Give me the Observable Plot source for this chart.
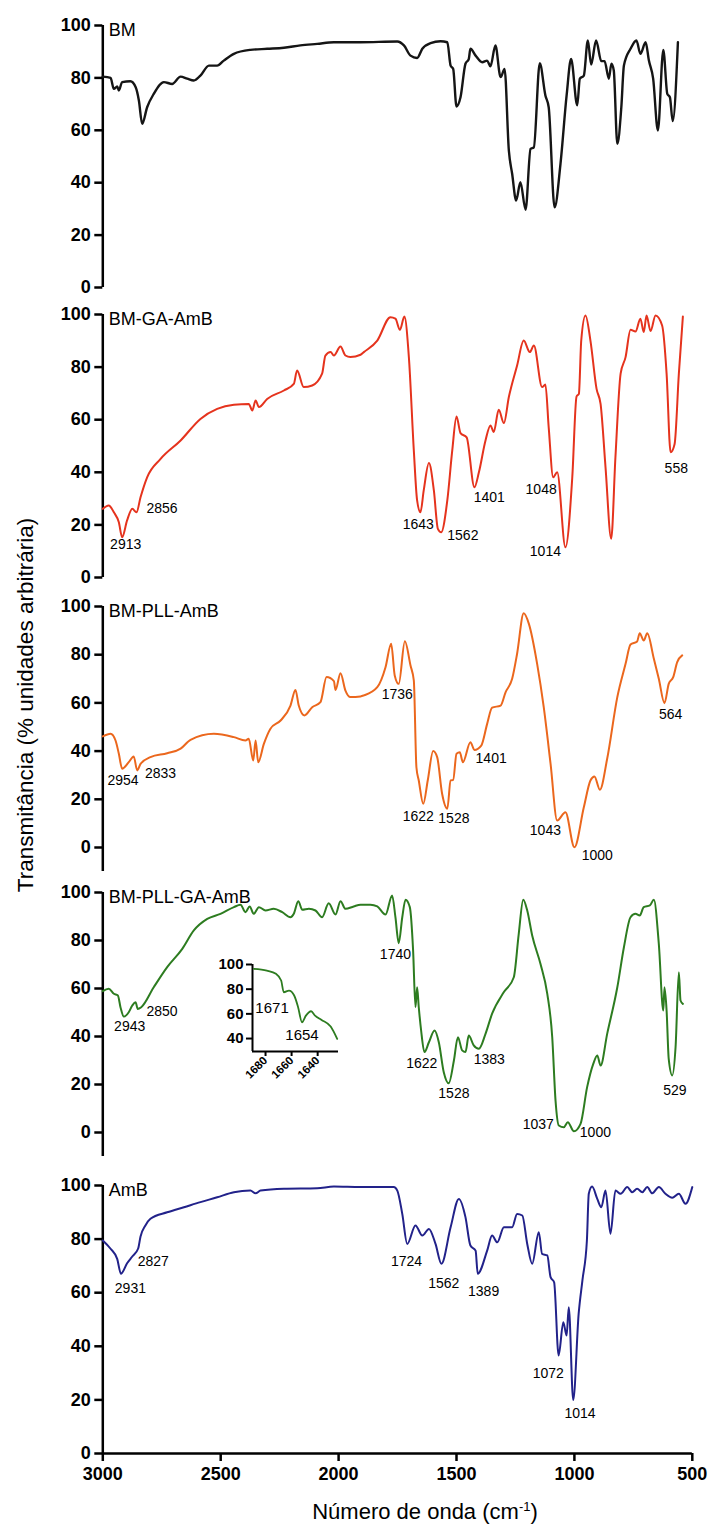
<!DOCTYPE html>
<html><head><meta charset="utf-8">
<script src="https://cdn.jsdelivr.net/npm/d3@7"></script>
<script src="https://cdn.jsdelivr.net/npm/@observablehq/plot@0.6"></script>
<style>
body{margin:0;background:#fff;}
#chart{position:relative;width:713px;height:1526px;font-family:"Liberation Sans",Arial,Helvetica,sans-serif;color:#000;overflow:hidden;}
#chart svg{position:absolute;left:0;overflow:visible;}
.ylab{position:absolute;left:26px;top:705px;transform:translate(-50%,-50%) rotate(-90deg);white-space:nowrap;font-size:22.5px;}
.xlab{position:absolute;left:425px;top:1512px;transform:translate(-50%,-50%);white-space:nowrap;font-size:22px;}
.xlab sup{font-size:13px;}
</style></head><body><div id="chart"></div>
<script>
// ---- data: [wavenumber (cm-1), transmittance (%)] ----
const bm = [[3000,80.5],[2967,80],[2953,75.8],[2939,76.7],[2932,75.2],[2918,78.4],[2883,78.7],[2861,76.5],[2847,71.4],[2833,62.5],[2812,68.8],[2784,73.9],[2741,78.4],[2706,77.7],[2670,80.5],[2642,79.7],[2614,79],[2586,80.9],[2550,84.7],[2515,84.7],[2487,86.6],[2444,89.2],[2374,90.7],[2303,91.1],[2232,91.5],[2162,92.4],[2091,93],[2020,93.6],[1907,93.6],[1751,93.9],[1723,92.4],[1695,88.5],[1667,87.6],[1645,91.1],[1610,93.3],[1568,94],[1539,93.6],[1525,84.7],[1514,83.4],[1500,69.1],[1483,72.6],[1462,85.4],[1448,87.2],[1441,91.1],[1419,88.5],[1391,86],[1370,86.6],[1356,84.4],[1335,92.4],[1313,80.3],[1296,83.4],[1278,52.3],[1264,43.4],[1247,33.2],[1229,40.2],[1207,29.7],[1186,52.9],[1172,53.5],[1147,85.6],[1123,73.3],[1109,68.8],[1084,30.6],[1059,47.2],[1033,73.3],[1014,87.2],[988,69.5],[977,79.7],[960,80.9],[943,94.3],[929,85.1],[908,94.3],[886,86.4],[872,86.4],[854,79.7],[843,85.4],[833,82.8],[818,54.8],[801,68.8],[790,84.7],[762,91.1],[737,94.3],[720,89.2],[698,93.6],[684,86.6],[666,79.7],[646,59.9],[623,90.7],[606,73.9],[595,72.6],[583,63.5],[561,93.6]];

const bmGaAmb = [[3000,26.1],[2975,27.4],[2953,24.8],[2932,21],[2918,15.3],[2897,21.7],[2875,26.1],[2857,24.8],[2840,30.5],[2812,38.1],[2755,45.1],[2670,52.1],[2586,60.3],[2515,64.1],[2444,65.7],[2381,66],[2366,63.5],[2352,67.3],[2338,64.8],[2303,67.9],[2232,71.1],[2190,73.6],[2176,78.7],[2148,72.4],[2112,73],[2070,77.5],[2056,84.4],[2034,85.7],[2020,84.4],[1992,87.8],[1971,84.4],[1950,83.8],[1907,84.7],[1893,85.7],[1836,90.1],[1780,99],[1759,98.4],[1740,94.2],[1721,99.2],[1702,83.8],[1681,48.3],[1667,29.3],[1653,24.8],[1639,33.1],[1617,43.5],[1596,33.1],[1579,18.5],[1565,17.2],[1539,29.3],[1518,48.3],[1500,61.2],[1483,54.9],[1457,53.3],[1424,34.3],[1405,40],[1377,52.1],[1356,57.8],[1342,55.3],[1321,63.8],[1299,58.7],[1278,68.6],[1243,80.6],[1215,90.1],[1189,85.7],[1172,88.2],[1137,72.4],[1123,73.4],[1109,57.1],[1090,38.1],[1073,40],[1038,11.5],[1009,38.1],[991,68.8],[981,69.8],[971,90.1],[953,99.6],[932,90.1],[906,71.7],[889,66],[868,41.9],[844,14.7],[826,45.7],[804,77.5],[783,83.8],[762,94.2],[741,93.5],[720,98.4],[706,93.3],[694,99.6],[677,93.7],[656,99.6],[628,95.8],[609,77.5],[592,47.6],[575,50.8],[557,77.5],[540,99.2]];

const bmPllAmb = [[3000,46.1],[2967,47.2],[2946,44.4],[2932,38.9],[2918,32.7],[2890,35.4],[2869,37.8],[2854,32],[2840,34.7],[2798,37.5],[2727,39.1],[2670,41],[2628,44.7],[2529,47.2],[2444,45.8],[2395,44.4],[2381,45.1],[2362,36.1],[2352,44.4],[2341,35.4],[2317,43],[2289,49.3],[2246,52.7],[2204,58.9],[2183,65.4],[2169,58.9],[2145,54.8],[2112,58.2],[2077,60.3],[2051,70.7],[2020,69],[2013,65.4],[1992,72.3],[1971,65.1],[1950,62.4],[1907,62.7],[1893,63.1],[1836,66.5],[1801,74.8],[1777,84.5],[1762,71.4],[1745,67.9],[1719,85.6],[1695,75.5],[1681,69.3],[1670,33.3],[1660,27.8],[1641,18.1],[1622,27.8],[1599,40],[1582,37.5],[1561,22.3],[1539,16.1],[1525,27.8],[1514,28.1],[1500,38.9],[1486,39.5],[1473,35.4],[1441,43.7],[1424,40.5],[1395,42.3],[1370,51.3],[1349,58],[1313,58.9],[1292,64.4],[1264,70],[1243,80.4],[1215,97.2],[1193,92.8],[1158,76.2],[1130,58.2],[1101,34.7],[1073,11.2],[1038,14.6],[1000,0.1],[960,16.7],[932,27.8],[915,29.5],[892,24],[861,36.8],[818,62.4],[783,76.2],[762,84.2],[734,85.5],[723,88.9],[706,85.9],[691,88.9],[663,78.3],[642,70],[618,59.9],[600,67.9],[581,70.7],[564,76.9],[543,79.7]];

const bmPllGaAmb = [[3000,58.9],[2975,59.9],[2953,57.8],[2936,57.1],[2925,52.2],[2911,48.3],[2890,50.1],[2875,52.9],[2861,54.3],[2852,51.5],[2837,52.2],[2784,60.5],[2727,68.9],[2663,76.5],[2614,84.2],[2557,89],[2501,91.1],[2444,93.9],[2416,94.9],[2395,91.8],[2377,94.2],[2360,91.1],[2338,93.9],[2310,92.5],[2275,93.2],[2239,91.8],[2204,89.7],[2190,91.1],[2171,96.4],[2154,92.8],[2126,93.2],[2098,92.5],[2070,89.7],[2042,95.5],[2013,90.8],[1992,96.4],[1971,93.2],[1936,94.2],[1907,94.9],[1865,94.9],[1836,94.2],[1801,90.8],[1773,98.8],[1759,89.7],[1745,78.9],[1730,89.7],[1716,97],[1698,93.9],[1684,75.8],[1674,52.2],[1667,60.5],[1660,52.2],[1650,42.5],[1636,33.5],[1617,37.6],[1593,42.5],[1575,37.6],[1554,25.1],[1533,20.5],[1511,30],[1494,39.7],[1476,34.2],[1462,33.5],[1448,40.4],[1427,36.3],[1405,34.9],[1377,41.1],[1349,49.5],[1299,58.5],[1257,64.7],[1236,82.8],[1217,97],[1200,92.5],[1179,82.1],[1144,70.3],[1115,57.8],[1094,39.7],[1080,13.3],[1066,2.9],[1045,2.2],[1028,4.3],[1002,0.5],[974,3.6],[946,18.9],[920,28.6],[903,32.1],[889,27.9],[861,41.1],[818,60.5],[790,77.2],[762,89.7],[741,91.1],[723,90.4],[706,93.9],[680,94.6],[663,97],[642,78.6],[623,50.8],[618,60.5],[609,50.8],[600,30.7],[585,23.8],[571,35.5],[557,66.8],[550,55],[540,53.6]];

const amb = [[3000,79.5],[2967,76.4],[2939,72.6],[2923,67.1],[2897,71],[2875,73.5],[2850,76.5],[2840,81],[2820,85],[2798,87.6],[2727,90],[2656,91.9],[2586,93.8],[2515,95.6],[2444,97.5],[2374,98.1],[2352,97.1],[2331,98.1],[2232,98.8],[2091,99],[2020,99.6],[1907,99.4],[1766,99.4],[1751,98.1],[1730,89.4],[1709,78.2],[1674,85.1],[1645,81.3],[1617,83.8],[1589,78.2],[1564,70.8],[1525,84.4],[1490,95],[1462,88.2],[1441,77.6],[1419,75.7],[1410,67.1],[1370,75.7],[1349,81.3],[1327,78.8],[1299,84.4],[1264,84.4],[1243,89.4],[1221,88.8],[1200,78.2],[1179,70.8],[1151,82.6],[1137,74.5],[1115,73.9],[1101,65.8],[1086,63.9],[1067,36.6],[1047,49],[1033,44],[1024,54.6],[1005,20],[982,52.1],[966,64.6],[947,79.5],[939,96.9],[925,99.6],[903,95],[886,91.9],[868,98.1],[847,82],[826,98.1],[804,96.9],[776,99.4],[755,97.5],[734,98.8],[712,97.5],[691,99.4],[670,97.1],[642,99.4],[614,96.9],[585,95.4],[557,96.9],[529,93.2],[500,99.4]];

const insetCurve = [[1689,96.5],[1679,95.1],[1672,92.5],[1668,87],[1666,77.5],[1662,78.9],[1658,74.9],[1655,65.4],[1652,53.2],[1649,58.6],[1645,62.1],[1642,58.6],[1637,55.1],[1630,49.7],[1625,39.7]];

// ---- peak labels: [wavenumber, transmittance, text] ----
const bmGaPeaks = [[2903,12.5,"2913"],[2749,26.1,"2856"],[1662,20,"1643"],[1473,16,"1562"],[1361,30.5,"1401"],[1141,33.3,"1048"],[1123,10,"1014"],[568,41.3,"558"]];
const bmPllPeaks = [[2914,27.8,"2954"],[2755,30.6,"2833"],[1751,63.4,"1736"],[1662,12.9,"1622"],[1511,11.9,"1528"],[1353,36.8,"1401"],[1123,7.1,"1043"],[903,-3.3,"1000"],[592,55.1,"564"]];
const bmPllGaPeaks = [[2886,44.2,"2943"],[2749,50.5,"2850"],[1759,74,"1740"],[1647,28.6,"1622"],[1511,16.4,"1528"],[1361,30.3,"1383"],[1153,3.2,"1037"],[911,0.1,"1000"],[574,17.5,"529"]];
const ambPeaks = [[2883,61.5,"2931"],[2786,71.8,"2827"],[1712,71.8,"1724"],[1554,63.5,"1562"],[1385,60.6,"1389"],[1111,29.7,"1072"],[976,14.8,"1014"]];
const insetPeaks = [[1675,65,"1671"],[1652,42.4,"1654"]];

// ---- ticks and names ----
const xTicks = [3000, 2500, 2000, 1500, 1000, 500];
const yTicks = [0, 20, 40, 60, 80, 100];
const insetXTicks = [1680, 1660, 1640];
const insetYTicks = [40, 60, 80, 100];
const names = ["BM", "BM-GA-AmB", "BM-PLL-AmB", "BM-PLL-GA-AmB", "AmB"];
const yTitle = "Transmitância (% unidades arbitrária)";

// ---- layout (pixel positions of the 100 and 0 levels) ----
const W = 713, ML = 102.3, MR = 713 - 691.8;
const font = "'Liberation Sans', Arial, Helvetica, sans-serif";
const panels = [
  {name: names[0], data: bm, peaks: [], color: "#151515", sw: 2.4, T: 25, B: 287, ymin: 0},
  {name: names[1], data: bmGaAmb, peaks: bmGaPeaks, color: "#e5331d", sw: 2, T: 314, B: 577, ymin: 0},
  {name: names[2], data: bmPllAmb, peaks: bmPllPeaks, color: "#eb671d", sw: 2, T: 606, B: 847, ymin: -10},
  {name: names[3], data: bmPllGaAmb, peaks: bmPllGaPeaks, color: "#2d7c20", sw: 2, T: 892, B: 1132, ymin: -10},
  {name: names[4], data: amb, peaks: ambPeaks, color: "#22228a", sw: 2, T: 1185, B: 1453, ymin: 0, xaxis: true}
];

const chart = document.getElementById("chart");
panels.forEach(p => {
  const pad = 20;
  const ppu = (p.B - p.T) / 100;
  const E = p.B - p.ymin * ppu;
  const extra = p.xaxis ? 50 : 14;
  const height = (E - p.T) + pad + extra;
  const marks = [
    Plot.ruleX([3000], {y1: p.ymin, y2: 100, stroke: "#000", strokeWidth: 2.5}),
    Plot.axisY(yTicks, {tickSize: 8, tickPadding: 4, fontSize: 18, fontWeight: "bold", strokeWidth: 2.5, label: null}),
    Plot.line(p.data, {x: d => d[0], y: d => d[1], stroke: p.color, strokeWidth: p.sw, strokeLinejoin: "round", curve: "monotone-x"}),
    Plot.text([p.name], {x: 3000, y: 100, text: d => d, dx: 6, dy: 5, textAnchor: "start", lineAnchor: "middle", fontSize: 18}),
    Plot.text(p.peaks, {x: d => d[0], y: d => d[1], text: d => d[2], fontSize: 14, lineAnchor: "middle"})
  ];
  if (p.xaxis) {
    marks.push(Plot.ruleY([0], {x1: 3000, x2: 500, stroke: "#000", strokeWidth: 2.5}));
    marks.push(Plot.axisX(xTicks, {tickSize: 8, tickPadding: 6, fontSize: 18, fontWeight: "bold", strokeWidth: 2.5, tickFormat: d => String(d), label: null}));
  }
  const svg = Plot.plot({
    width: W, height,
    marginLeft: ML, marginRight: MR, marginTop: pad, marginBottom: extra,
    style: {fontFamily: font, background: "transparent", overflow: "visible", color: "#000"},
    x: {domain: [3000, 500], axis: p.xaxis ? undefined : null},
    y: {domain: [p.ymin, 100]},
    marks
  });
  svg.style.top = (p.T - pad) + "px";
  chart.appendChild(svg);
});

// ---- inset (zoom of 1690-1624 cm-1 in BM-PLL-GA-AmB) ----
{
  const left = 200, top = 950, iw = 150, ih = 130;
  const svg = Plot.plot({
    width: iw, height: ih,
    marginLeft: 252 - left, marginRight: iw - (338 - left), marginTop: 964 - top, marginBottom: ih - (1051 - top),
    style: {fontFamily: font, background: "transparent", overflow: "visible", color: "#000"},
    x: {domain: [1690, 1624]},
    y: {domain: [29.5, 100]},
    marks: [
      Plot.ruleX([1690], {y1: 29.5, y2: 100, stroke: "#000", strokeWidth: 2}),
      Plot.ruleY([29.5], {x1: 1690, x2: 1624, stroke: "#000", strokeWidth: 2}),
      Plot.axisY(insetYTicks, {tickSize: 6, tickPadding: 3, fontSize: 15, fontWeight: "bold", strokeWidth: 2, label: null}),
      Plot.axisX(insetXTicks, {tickSize: 5, tickPadding: 2, tickRotate: -45, fontSize: 11.5, fontWeight: "bold", strokeWidth: 2, tickFormat: d => String(d), label: null}),
      Plot.line(insetCurve, {x: d => d[0], y: d => d[1], stroke: "#2d7c20", strokeWidth: 1.8, strokeLinejoin: "round", curve: "monotone-x"}),
      Plot.text(insetPeaks, {x: d => d[0], y: d => d[1], text: d => d[2], fontSize: 15, lineAnchor: "middle"})
    ]
  });
  svg.style.left = left + "px";
  svg.style.top = top + "px";
  chart.appendChild(svg);
}

// ---- axis titles ----
const yl = document.createElement("div");
yl.className = "ylab";
yl.textContent = yTitle;
chart.appendChild(yl);
const xl = document.createElement("div");
xl.className = "xlab";
xl.innerHTML = "Número de onda (cm<sup>-1</sup>)";
chart.appendChild(xl);
</script>
</body></html>
